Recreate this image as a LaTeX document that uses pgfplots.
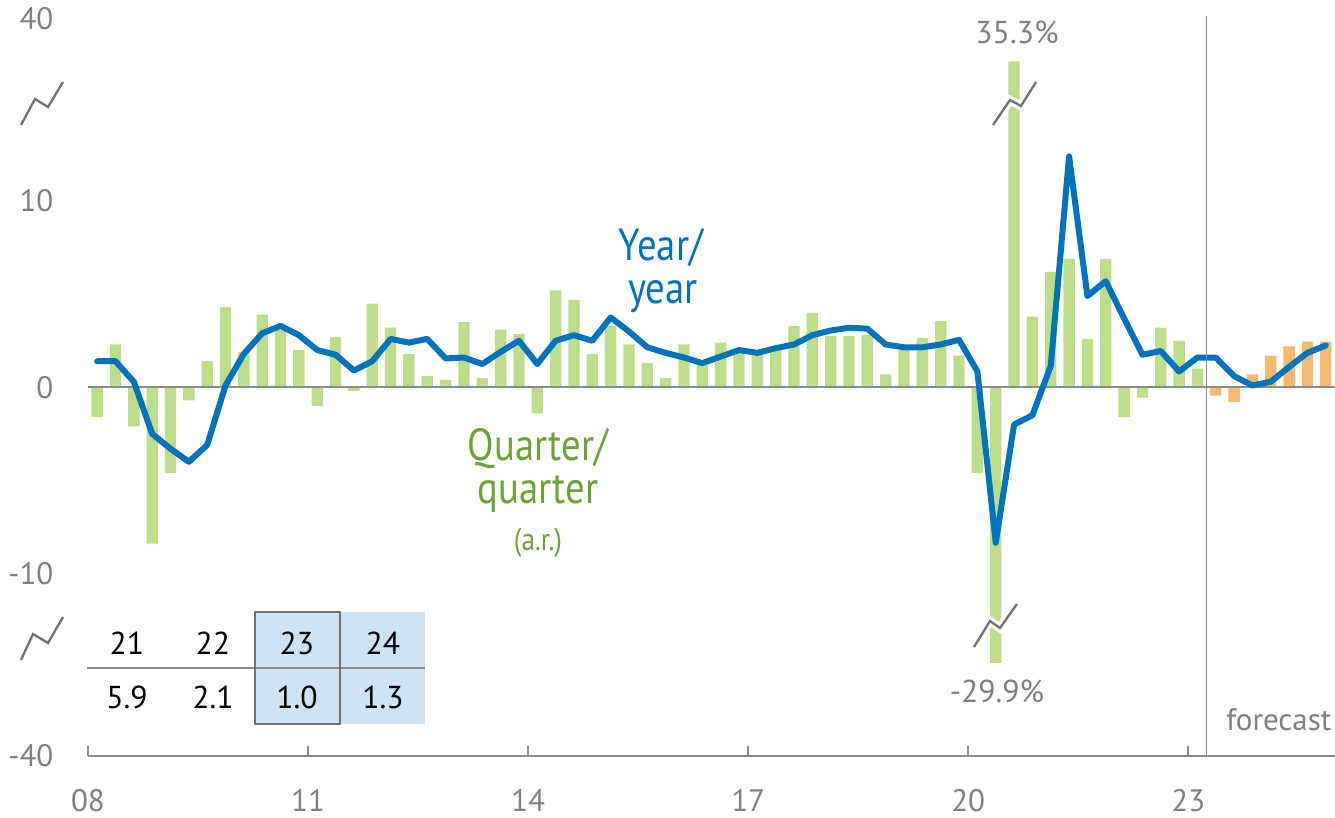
\documentclass[border=0pt]{standalone}
\usepackage{fontspec}
\setmainfont{PT Sans}
\newfontfamily\condensed[FakeStretch=0.86]{PT Sans}
\usepackage{pgfplots}
\pgfplotsset{compat=1.18}
\usepackage{pgfplotstable}

\definecolor{barGreen}{RGB}{189,221,139}
\definecolor{barOrange}{RGB}{246,185,112}
\definecolor{lineBlue}{RGB}{0,115,187}
\definecolor{txtGreen}{RGB}{108,163,52}
\definecolor{txtGray}{RGB}{128,128,128}
\definecolor{axGray}{RGB}{140,140,140}
\definecolor{markGray}{RGB}{115,115,115}
\definecolor{tblBlue}{RGB}{204,228,246}

% real GDP, % change: qq = quarter/quarter (a.r.), yy = year/year
\pgfplotstableread{
x        qq     yy
2008.125 -1.6   1.4
2008.375  2.3   1.4
2008.625 -2.1   0.3
2008.875 -8.4  -2.5
2009.125 -4.6  -3.3
2009.375 -0.7  -4.0
2009.625  1.4  -3.1
2009.875  4.3   0.1
2010.125  1.9   1.8
2010.375  3.9   2.9
2010.625  3.1   3.3
2010.875  2.0   2.8
2011.125 -1.0   2.0
2011.375  2.7   1.75
2011.625 -0.2   0.9
2011.875  4.5   1.4
2012.125  3.2   2.6
2012.375  1.8   2.4
2012.625  0.6   2.6
2012.875  0.4   1.55
2013.125  3.5   1.6
2013.375  0.5   1.25
2013.625  3.1   1.9
2013.875  2.85  2.5
2014.125 -1.4   1.25
2014.375  5.2   2.5
2014.625  4.7   2.8
2014.875  1.8   2.5
2015.125  3.3   3.75
2015.375  2.3   3.0
2015.625  1.3   2.15
2015.875  0.5   1.85
2016.125  2.3   1.6
2016.375  1.2   1.3
2016.625  2.4   1.65
2016.875  2.0   2.0
2017.125  1.75  1.85
2017.375  2.0   2.1
2017.625  3.3   2.3
2017.875  4.0   2.8
2018.125  2.75  3.05
2018.375  2.75  3.2
2018.625  2.8   3.15
2018.875  0.7   2.3
2019.125  2.0   2.15
2019.375  2.65  2.15
2019.625  3.55  2.3
2019.875  1.7   2.55
2020.125 -4.6   0.85
2020.375 -29.9 -8.35
2020.625  35.3 -2.0
2020.875  3.8  -1.5
2021.125  6.2   1.15
2021.375  6.9   12.4
2021.625  2.6   4.9
2021.875  6.9   5.7
2022.125 -1.6   3.7
2022.375 -0.55  1.75
2022.625  3.2   1.95
2022.875  2.5   0.85
2023.125  1.0   1.6
2023.375 -0.45  1.6
2023.625 -0.8   0.6
2023.875  0.7   0.1
2024.125  1.7   0.3
2024.375  2.2   1.1
2024.625  2.45  1.85
2024.875  2.45  2.25
}\gdp

\begin{document}
\begin{tikzpicture}
\begin{axis}[
    name=ax,
    scale only axis,
    width=374.1pt, height=221.22pt,
    xmin=2008, xmax=2025,
    ymin=-40, ymax=40,
    % broken scale: linear from -14 to 15, squeezed beyond
    y coord trafo/.code={\pgfmathparse{(#1)<-29.9 ? -14.8+((#1)+29.9)*0.495 : ((#1)<-14 ? -14+((#1)+14)*0.0503 : ((#1)<15 ? (#1) : ((#1)<35.3 ? 15+((#1)-15)*0.1232 : 17.5+((#1)-35.3)*0.4894)))}},
    axis x line*=bottom, axis y line*=left,
    x axis line style={axGray, line width=0.6pt, -},
    y axis line style={draw=none},
    xtick={2008,2011,2014,2017,2020,2023},
    xticklabels={08,11,14,17,20,23},
    ytick={-40,-10,0,10,40},
    yticklabels={-40,-10,0,10,40},
    tick align=inside,
    major tick length=3pt,
    xtick style={axGray, line width=0.6pt},
    ytick style={draw=none},
    xticklabel style={anchor=base, yshift=-16.8pt, inner sep=0pt,
        text=txtGray, font=\fontsize{9.3}{10}\selectfont},
    yticklabel style={anchor=east, xshift=-10.2pt, inner sep=0pt,
        text=txtGray, font=\fontsize{9.3}{10}\selectfont},
    clip=false,
]
\addplot[ybar, bar width=3.4pt, bar shift=0pt, fill=barGreen, draw=none,
    restrict x to domain=2008:2023.2] table[x=x, y=qq] {\gdp};
\addplot[ybar, bar width=3.4pt, bar shift=0pt, fill=barOrange, draw=none,
    restrict x to domain=2023.2:2025] table[x=x, y=qq] {\gdp};
\draw[axGray, line width=0.6pt] (rel axis cs:0,0.5) -- (rel axis cs:1,0.5);
\addplot[lineBlue, line width=1.8pt, line join=round, line cap=round, mark=none]
    table[x=x, y=yy] {\gdp};
\end{axis}

% annotations, in pixel units of the reference (origin top left)
\begin{scope}[shift={(ax.south west)}, xshift=-26.4pt, yshift=226.8pt, x=0.3pt, y=-0.3pt]
  % forecast divider
  \draw[axGray, line width=0.5pt] (1206.6,16) -- (1206.6,756);
  % axis breaks
  \draw[markGray, line width=0.7pt] (21,125) -- (35,99) -- (48,107) -- (63,82);
  \draw[markGray, line width=0.7pt] (21,660) -- (33,634) -- (48,643) -- (63,617);
  % bar breaks
  \draw[white, line width=2.6pt] (993,125) -- (1010,100) -- (1021,106) -- (1036,82);
  \draw[markGray, line width=0.7pt] (993,125) -- (1010,100) -- (1021,106) -- (1036,82);
  \draw[white, line width=2.6pt] (974,647) -- (990,621) -- (1000,628) -- (1017,604);
  \draw[markGray, line width=0.7pt] (974,647) -- (990,621) -- (1000,628) -- (1017,604);
  % labels
  \begin{scope}[every node/.style={inner sep=0pt, anchor=base}]
  \node[text=lineBlue, font=\condensed\fontsize{13.5}{14}\selectfont] at (661,260) {Year/};
  \node[text=lineBlue, font=\condensed\fontsize{13.5}{14}\selectfont] at (663,303) {year};
  \node[text=txtGreen, font=\condensed\fontsize{13.5}{14}\selectfont] at (538,460) {Quarter/};
  \node[text=txtGreen, font=\condensed\fontsize{13.5}{14}\selectfont] at (538,503) {quarter};
  \node[text=txtGreen, font=\condensed\fontsize{9.5}{10}\selectfont] at (538,550) {(a.r.)};
  \node[text=txtGray, font=\fontsize{9.5}{10}\selectfont] at (1017,43) {35.3\%};
  \node[text=txtGray, font=\fontsize{9.5}{10}\selectfont] at (997,702) {-29.9\%};
  \node[text=txtGray, font=\fontsize{9.3}{10}\selectfont, anchor=base east] at (1332,730) {forecast};
  \end{scope}
  % annual table
  \fill[tblBlue] (255,612) rectangle (425,724);
  \draw[axGray, line width=0.6pt] (87,668) -- (425,668);
  \draw[markGray, line width=0.6pt] (255,612) rectangle (340,724);
  \begin{scope}[every node/.style={inner sep=0pt, text=black, font=\fontsize{9.5}{10}\selectfont}]
  \node at (127,643) {21};  \node at (213,643) {22};
  \node at (297,643) {23};  \node at (383,643) {24};
  \node at (127,697) {5.9}; \node at (213,697) {2.1};
  \node at (297,697) {1.0}; \node at (383,697) {1.3};
  \end{scope}
  \pgfresetboundingbox
  \path (0,0) rectangle (1335,817);
\end{scope}
\end{tikzpicture}
\end{document}
